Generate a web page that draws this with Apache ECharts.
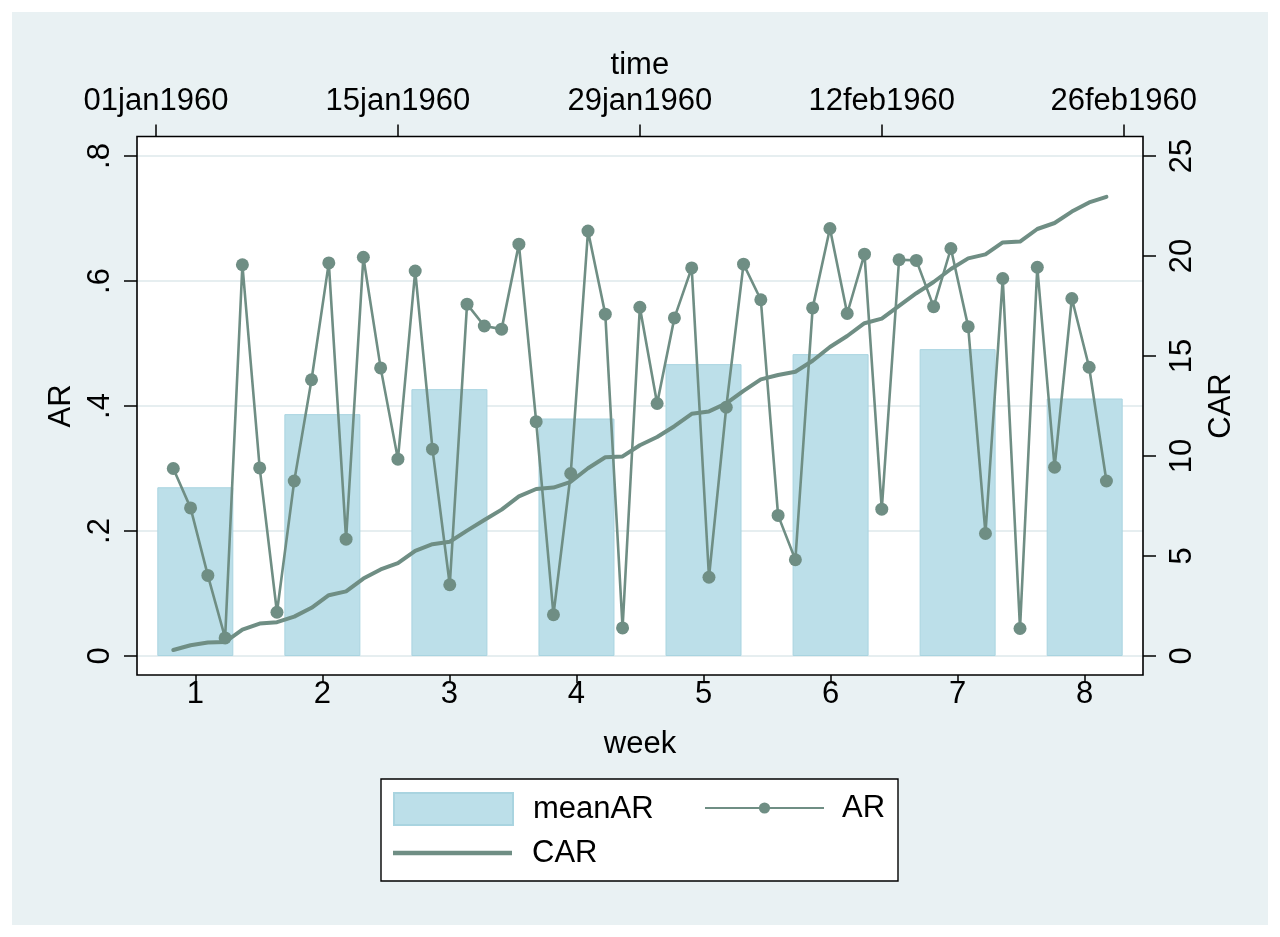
<!DOCTYPE html>
<html>
<head>
<meta charset="utf-8">
<script src="https://cdn.jsdelivr.net/npm/echarts@6/dist/echarts.min.js"></script>
<style>
html,body{margin:0;padding:0;background:#fff;}
#c{width:1280px;height:937px;}
</style>
</head>
<body>
<div id="c"></div>
<script>
// ---- data ----
const weeks = [1, 2, 3, 4, 5, 6, 7, 8];
const meanAR = [0.270, 0.387, 0.427, 0.380, 0.467, 0.483, 0.491, 0.412];
// days since 01jan1960
const days = [1,2,3,4,5,6,7,8,9,10,11,12,13,14,15,16,17,18,19,20,21,22,23,24,25,26,27,28,29,30,31,32,33,34,35,36,37,38,39,40,41,42,43,44,45,46,47,48,49,50,51,52,53,54,55];
const AR = [0.300,0.237,0.129,0.029,0.626,0.301,0.070,0.280,0.442,0.629,
            0.187,0.638,0.461,0.315,0.616,0.331,0.114,0.563,0.528,0.523,
            0.659,0.375,0.066,0.292,0.680,0.547,0.045,0.558,0.404,0.541,
            0.621,0.126,0.398,0.627,0.570,0.225,0.154,0.557,0.684,0.548,
            0.643,0.235,0.634,0.633,0.559,0.652,0.527,0.196,0.604,0.044,
            0.622,0.302,0.572,0.462,0.280];
const CAR = [0.30,0.54,0.67,0.70,1.32,1.62,1.69,1.97,2.41,3.04,
             3.23,3.87,4.33,4.64,5.26,5.59,5.71,6.27,6.80,7.32,
             7.98,8.35,8.42,8.71,9.39,9.94,9.98,10.54,10.95,11.49,
             12.11,12.23,12.63,13.26,13.83,14.05,14.21,14.76,15.45,16.00,
             16.64,16.87,17.51,18.14,18.70,19.35,19.88,20.08,20.68,20.72,
             21.35,21.65,22.22,22.68,22.96];
const timeTickDays = [0, 14, 28, 42, 56];
const timeTickLabels = ['01jan1960', '15jan1960', '29jan1960', '12feb1960', '26feb1960'];
const arTicks = [0, 0.2, 0.4, 0.6, 0.8];
const arTickLabels = ['0', '.2', '.4', '.6', '.8'];
const carTicks = [0, 5, 10, 15, 20, 25];

// ---- style ----
const FONT = 'Liberation Sans, Arial, sans-serif';
const FS = 31;
const LINE = '#6f8e84';
const BAR = '#bcdfe9';
const BG = '#e9f1f3';
const GRID = '#e6eef0';

const chart = echarts.init(document.getElementById('c'), null, {renderer: 'canvas'});
const txt = {color: '#000', fontFamily: FONT, fontSize: FS};
const legTxt = {...txt, padding: [0, 0, 0, 15]};

const option = {
  backgroundColor: '#ffffff',
  animation: false,
  textStyle: {fontFamily: FONT},
  graphic: [
    {type: 'rect', z: -20, silent: true, shape: {x: 12, y: 12, width: 1256, height: 913}, style: {fill: BG}},
    {type: 'rect', z: -10, silent: true, shape: {x: 137, y: 136.5, width: 1006, height: 538.5}, style: {fill: '#fff'}},
    {type: 'rect', z: 50, silent: true, shape: {x: 137, y: 136.5, width: 1006, height: 538.5}, style: {fill: null, stroke: '#000', lineWidth: 1.6}},
    {type: 'rect', z: -10, silent: true, shape: {x: 381, y: 779, width: 517, height: 102}, style: {fill: '#fff', stroke: '#000', lineWidth: 1.4}}
  ],
  grid: [
    {left: 137, right: 137, top: 156, bottom: 281, containLabel: false},
    {left: 156, right: 156.3, top: 156, bottom: 281, containLabel: false}
  ],
  xAxis: [
    {
      type: 'value', gridIndex: 0, position: 'bottom', offset: 19,
      min: 0.541, max: 8.459,
      name: 'week', nameLocation: 'middle', nameGap: 54, nameTextStyle: txt,
      axisLine: {show: false, onZero: false},
      axisTick: {show: true, length: 8, lineStyle: {color: '#000', width: 1.5}, customValues: weeks},
      axisLabel: {show: true, margin: 4, ...txt, customValues: weeks, formatter: v => String(v)},
      splitLine: {show: false}
    },
    {
      type: 'value', gridIndex: 1, position: 'top', offset: 19.5,
      min: 0, max: 56, interval: 14,
      name: 'time', nameLocation: 'middle', nameGap: 56, nameTextStyle: txt,
      axisLine: {show: false, onZero: false},
      axisTick: {show: true, length: 12, lineStyle: {color: '#000', width: 1.5}},
      axisLabel: {show: true, margin: 20, ...txt, showMinLabel: true, showMaxLabel: true,
        formatter: v => { const i = timeTickDays.indexOf(Math.round(v)); return i >= 0 ? timeTickLabels[i] : ''; }},
      splitLine: {show: false}
    }
  ],
  yAxis: [
    {
      type: 'value', gridIndex: 0, position: 'left', min: 0, max: 0.8, interval: 0.2,
      name: 'AR', nameLocation: 'middle', nameGap: 60, nameRotate: 90, nameTextStyle: txt,
      axisLine: {show: false, onZero: false},
      axisTick: {show: true, length: 13, lineStyle: {color: '#000', width: 1.5}},
      axisLabel: {show: true, rotate: 90, margin: 21, ...txt,
        formatter: v => { const i = arTicks.findIndex(t => Math.abs(t - v) < 1e-6); return i >= 0 ? arTickLabels[i] : ''; }},
      splitLine: {show: true, lineStyle: {color: GRID, width: 2}}
    },
    {
      type: 'value', gridIndex: 0, position: 'right', min: 0, max: 25, interval: 5,
      name: 'CAR', nameLocation: 'middle', nameGap: 54, nameRotate: 90, nameTextStyle: txt,
      axisLine: {show: false, onZero: false},
      axisTick: {show: true, length: 13, lineStyle: {color: '#000', width: 1.5}},
      axisLabel: {show: true, rotate: 90, margin: 24, ...txt,
        formatter: v => String(carTicks.find(t => Math.abs(t - v) < 1e-6) ?? '')},
      splitLine: {show: false}
    },
    {type: 'value', gridIndex: 1, show: false, min: 0, max: 0.8, axisLine: {onZero: false}, splitLine: {show: false}},
    {type: 'value', gridIndex: 1, show: false, min: 0, max: 25, axisLine: {onZero: false}, splitLine: {show: false}}
  ],
  legend: [
    {data: [{name: 'meanAR', icon: 'rect'}], left: 393, top: 792, padding: 0, itemWidth: 119, itemHeight: 32, itemGap: 0, textStyle: legTxt, selectedMode: false},
    {data: ['AR'], left: 704, top: 792.5, padding: 0, itemWidth: 119, itemHeight: 14, itemGap: 0, textStyle: {...txt, padding: [0, 0, 0, 13]}, selectedMode: false},
    {data: [{name: 'CAR', icon: 'rect', itemStyle: {color: LINE}}], left: 393, top: 837.5, padding: 0, itemWidth: 119, itemHeight: 4.5, itemGap: 0, textStyle: legTxt, selectedMode: false}
  ],
  series: [
    {
      name: 'meanAR', type: 'bar', xAxisIndex: 0, yAxisIndex: 0,
      barWidth: 76,
      data: weeks.map((w, i) => [w, meanAR[i]]),
      itemStyle: {color: BAR, borderColor: '#a9d4e0', borderWidth: 1},
      z: 1
    },
    {
      name: 'CAR', type: 'line', xAxisIndex: 1, yAxisIndex: 3,
      data: days.map((d, i) => [d, CAR[i]]),
      symbol: 'none', lineStyle: {color: LINE, width: 4, join: 'round', cap: 'round'},
      itemStyle: {color: LINE},
      z: 3
    },
    {
      name: 'AR', type: 'line', xAxisIndex: 1, yAxisIndex: 2,
      data: days.map((d, i) => [d, AR[i]]),
      symbol: 'circle', symbolSize: 13, showAllSymbol: true,
      lineStyle: {color: LINE, width: 2.6},
      itemStyle: {color: LINE},
      z: 4
    }
  ]
};
chart.setOption(option);
</script>
</body>
</html>
